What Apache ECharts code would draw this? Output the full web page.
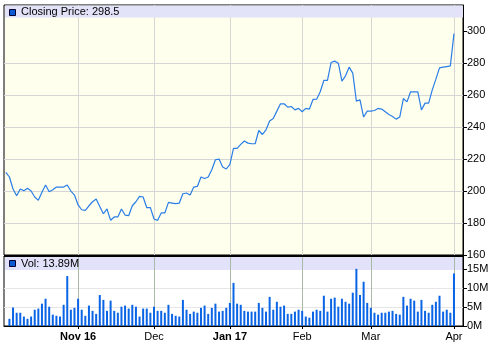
<!DOCTYPE html>
<html><head><meta charset="utf-8">
<script src="https://cdn.jsdelivr.net/npm/echarts@6/dist/echarts.min.js"></script>
<style>html,body{margin:0;padding:0;background:#fff}#c{width:491px;height:350px}</style>
</head><body><div id="c"></div>
<script>
const dates = [
'2016-10-04','2016-10-05','2016-10-06','2016-10-07','2016-10-10','2016-10-11','2016-10-12','2016-10-13','2016-10-14','2016-10-17','2016-10-18','2016-10-19','2016-10-20','2016-10-21','2016-10-24','2016-10-25','2016-10-26','2016-10-27','2016-10-28','2016-10-31',
'2016-11-01','2016-11-02','2016-11-03','2016-11-04','2016-11-07','2016-11-08','2016-11-09','2016-11-10','2016-11-11','2016-11-14','2016-11-15','2016-11-16','2016-11-17','2016-11-18','2016-11-21','2016-11-22','2016-11-23','2016-11-25','2016-11-28','2016-11-29','2016-11-30',
'2016-12-01','2016-12-02','2016-12-05','2016-12-06','2016-12-07','2016-12-08','2016-12-09','2016-12-12','2016-12-13','2016-12-14','2016-12-15','2016-12-16','2016-12-19','2016-12-20','2016-12-21','2016-12-22','2016-12-23','2016-12-27','2016-12-28','2016-12-29','2016-12-30',
'2017-01-03','2017-01-04','2017-01-05','2017-01-06','2017-01-09','2017-01-10','2017-01-11','2017-01-12','2017-01-13','2017-01-17','2017-01-18','2017-01-19','2017-01-20','2017-01-23','2017-01-24','2017-01-25','2017-01-26','2017-01-27','2017-01-30','2017-01-31',
'2017-02-01','2017-02-02','2017-02-03','2017-02-06','2017-02-07','2017-02-08','2017-02-09','2017-02-10','2017-02-13','2017-02-14','2017-02-15','2017-02-16','2017-02-17','2017-02-21','2017-02-22','2017-02-23','2017-02-24','2017-02-27','2017-02-28',
'2017-03-01','2017-03-02','2017-03-03','2017-03-06','2017-03-07','2017-03-08','2017-03-09','2017-03-10','2017-03-13','2017-03-14','2017-03-15','2017-03-16','2017-03-17','2017-03-20','2017-03-21','2017-03-22','2017-03-23','2017-03-24','2017-03-27','2017-03-28','2017-03-29','2017-03-30','2017-03-31',
'2017-04-03'
];
const padCategories = ['2017-04-04','2017-04-05'];
const closePrice = [
211.7,208.8,201.3,197.1,201.3,200.2,201.7,200.0,196.3,194.2,199.2,203.8,199.6,200.8,202.5,202.5,202.5,203.8,200.0,197.5,
191.3,188.3,187.9,190.8,193.3,195.0,190.4,185.8,188.8,181.7,183.8,183.8,188.8,185.0,184.6,190.8,193.3,196.7,196.3,189.6,189.6,
182.5,181.7,186.3,186.3,192.9,192.5,192.1,192.5,198.3,198.8,197.5,202.5,202.9,208.8,207.9,208.8,213.3,219.6,220.0,215.0,213.8,
216.7,226.7,226.7,229.2,231.3,230.0,229.6,229.6,237.9,235.4,238.3,243.8,245.4,250.0,254.6,254.6,252.5,252.9,250.8,251.7,
249.6,251.7,251.3,257.3,257.5,262.1,269.2,269.2,280.4,281.3,280.0,268.8,272.1,277.5,273.8,256.3,257.1,246.3,250.0,
250.0,250.4,251.7,251.3,249.6,247.9,246.7,245.0,246.3,257.9,255.8,262.1,262.1,262.1,250.8,255.0,255.0,263.3,270.0,277.1,277.5,277.9,278.3,
298.5
];
const volumeM = [
null,1.9,4.9,3.5,3.5,2.5,1.9,2.5,4.3,4.6,5.9,7.2,5.1,3.0,2.7,2.5,5.6,13.2,4.3,4.8,
7.2,4.3,2.7,5.4,4.0,3.2,8.2,6.9,4.0,6.7,4.0,3.5,5.1,5.4,4.6,5.6,5.1,2.5,4.6,4.6,3.5,
5.1,4.0,4.0,3.5,5.6,3.2,2.7,2.5,6.9,4.3,3.2,3.8,3.5,4.8,5.4,3.2,4.8,5.9,3.8,4.0,4.8,
6.1,11.4,5.9,5.6,4.0,3.8,3.8,3.8,6.1,4.8,3.8,7.7,4.3,6.4,5.1,5.4,3.2,3.2,3.8,4.3,
4.0,2.5,2.2,3.8,4.3,4.0,8.0,3.8,7.2,7.5,5.1,7.2,6.4,5.9,8.8,15.1,8.2,11.7,6.1,
4.8,3.5,3.0,3.5,3.5,3.8,4.0,3.2,3.0,7.7,5.4,7.2,6.7,3.8,6.9,4.0,3.5,5.6,6.4,8.0,3.8,4.3,3.5,
13.89
];
const monthTickDates = ['2016-11-01','2016-12-01','2017-01-03','2017-02-01','2017-03-01','2017-04-03'];
const monthTickLabels = ['Nov 16','Dec','Jan 17','Feb','Mar','Apr'];
const boldTickLabels = ['Nov 16','Jan 17'];
const priceTicks = [160,180,200,220,240,260,280,300];
const volumeTicks = [0,5,10,15];
const priceLegend = 'Closing Price: 298.5';
const volumeLegend = 'Vol: 13.89M';

const cats = dates.concat(padCategories);
const monthIdx = monthTickDates.map(d => cats.indexOf(d));
const FONT = '"Liberation Sans", Arial, sans-serif';
const isMonth = (i) => monthIdx.indexOf(i) >= 0;

const chart = echarts.init(document.getElementById('c'), null, {renderer: 'canvas'});
chart.setOption({
  animation: false,
  backgroundColor: '#ffffff',
  grid: [
    {left: 4, top: 5, width: 459, height: 250, show: true, backgroundColor: '#ffffee', borderColor: '#000', borderWidth: 1, containLabel: false, outerBoundsMode: 'none'},
    {left: 4, top: 256, width: 459, height: 70, show: true, backgroundColor: 'transparent', borderColor: '#000', borderWidth: 1, containLabel: false, outerBoundsMode: 'none'}
  ],
  xAxis: [
    {gridIndex: 0, type: 'category', data: cats, boundaryGap: true,
     axisLine: {show: false}, axisTick: {show: false, customValues: monthIdx, alignWithLabel: true},
     axisLabel: {show: false},
     splitLine: {show: true, alignWithLabel: true, interval: (i) => isMonth(i), lineStyle: {color: '#d6d6d6', width: 1}}},
    {gridIndex: 1, type: 'category', data: cats, boundaryGap: true,
     axisLine: {show: true, lineStyle: {color: '#000', width: 1}},
     axisTick: {show: true, length: 3, alignWithLabel: true, customValues: monthIdx, interval: (i) => isMonth(i), lineStyle: {color: '#000'}},
     axisLabel: {show: true, customValues: monthIdx, interval: (i) => isMonth(i), margin: 5,
       fontSize: 11, fontFamily: FONT, color: '#000',
       formatter: function (v) {
         const k = monthTickDates.indexOf(v);
         if (k < 0) return '';
         const t = monthTickLabels[k];
         return boldTickLabels.indexOf(t) >= 0 ? '{b|' + t + '}' : t;
       },
       rich: {b: {fontWeight: 'bold', fontSize: 11, fontFamily: FONT, color: '#000'}}},
     splitLine: {show: true, alignWithLabel: true, interval: (i) => isMonth(i), lineStyle: {color: '#a9baa9', width: 1}}}
  ],
  yAxis: [
    {gridIndex: 0, type: 'value', position: 'right', min: 160, max: 316.4, interval: 20,
     axisLine: {show: true, lineStyle: {color: '#000'}},
     axisTick: {show: true, length: 4, customValues: priceTicks, lineStyle: {color: '#000'}},
     axisLabel: {show: true, customValues: priceTicks, margin: 4, fontSize: 11, fontFamily: FONT, color: '#000',
       formatter: (v) => (priceTicks.indexOf(v) >= 0 ? String(v) : '')},
     splitLine: {show: true, showMaxLine: false, lineStyle: {color: '#d6d6d6', width: 1}}},
    {gridIndex: 1, type: 'value', position: 'right', min: 0, max: 18.5, interval: 5,
     axisLine: {show: true, lineStyle: {color: '#000'}},
     axisTick: {show: true, length: 4, customValues: volumeTicks, lineStyle: {color: '#000'}},
     axisLabel: {show: true, customValues: volumeTicks, margin: 4, fontSize: 11, fontFamily: FONT, color: '#000',
       formatter: (v) => (volumeTicks.indexOf(v) >= 0 ? v + 'M' : '')},
     splitLine: {show: true, showMinLine: false, showMaxLine: false, lineStyle: {color: '#e6e6e6', width: 1}}}
  ],
  series: [
    {type: 'line', xAxisIndex: 0, yAxisIndex: 0, data: closePrice, showSymbol: false, symbol: 'none',
     lineStyle: {color: '#2a7ee6', width: 1.2}, z: 3},
    {type: 'bar', xAxisIndex: 1, yAxisIndex: 1, data: volumeM, barWidth: 2,
     itemStyle: {color: '#0a64e6'}, z: 3}
  ],
  graphic: [
    {type: 'rect', z: 1, shape: {x: 5, y: 5.5, width: 458, height: 12}, style: {fill: '#e2e2f8'}},
    {type: 'rect', z: -1, shape: {x: 5, y: 257, width: 458, height: 13}, style: {fill: '#e2e2fa'}},
    {type: 'rect', z: 10, shape: {x: 4, y: 255, width: 460, height: 2}, style: {fill: '#000'}},
    {type: 'rect', z: 10, shape: {x: 9.5, y: 9.5, width: 6, height: 6}, style: {fill: '#0a5ad6', stroke: '#000033', lineWidth: 1}},
    {type: 'text', z: 10, style: {text: priceLegend, x: 21, y: 12, verticalAlign: 'middle', font: '11px ' + FONT, fill: '#000'}},
    {type: 'rect', z: 10, shape: {x: 9.5, y: 260.5, width: 6, height: 6}, style: {fill: '#0a5ad6', stroke: '#000033', lineWidth: 1}},
    {type: 'text', z: 10, style: {text: volumeLegend, x: 21, y: 263.5, verticalAlign: 'middle', font: '11px ' + FONT, fill: '#000'}}
  ]
});
</script></body></html>
